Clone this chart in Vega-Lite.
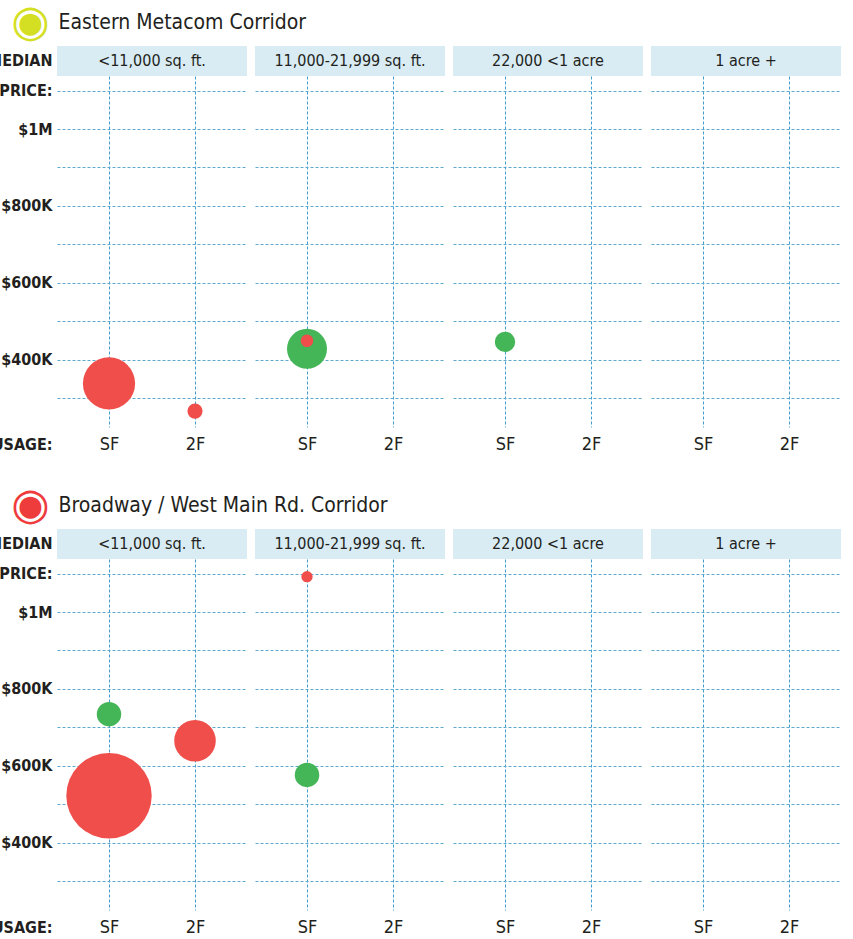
{
  "$schema": "https://vega.github.io/schema/vega-lite/v6.json",
  "background": "white",
  "padding": {"left": -13, "top": 0, "right": 0, "bottom": 0},
  "data": {"values": [
    {"section": "Eastern Metacom Corridor", "lot": "<11,000 sq. ft.", "kind": "header"},
    {"section": "Eastern Metacom Corridor", "lot": "11,000-21,999 sq. ft.", "kind": "header"},
    {"section": "Eastern Metacom Corridor", "lot": "22,000 <1 acre", "kind": "header"},
    {"section": "Eastern Metacom Corridor", "lot": "1 acre +", "kind": "header"},
    {"section": "Broadway / West Main Rd. Corridor", "lot": "<11,000 sq. ft.", "kind": "header"},
    {"section": "Broadway / West Main Rd. Corridor", "lot": "11,000-21,999 sq. ft.", "kind": "header"},
    {"section": "Broadway / West Main Rd. Corridor", "lot": "22,000 <1 acre", "kind": "header"},
    {"section": "Broadway / West Main Rd. Corridor", "lot": "1 acre +", "kind": "header"},
    {"section": "Eastern Metacom Corridor", "lot": "<11,000 sq. ft.", "kind": "bubble", "usage": "SF", "group": "B", "price": 338000, "n": 21.3},
    {"section": "Eastern Metacom Corridor", "lot": "<11,000 sq. ft.", "kind": "bubble", "usage": "2F", "group": "B", "price": 266000, "n": 1.8},
    {"section": "Eastern Metacom Corridor", "lot": "11,000-21,999 sq. ft.", "kind": "bubble", "usage": "SF", "group": "A", "price": 428000, "n": 12.5},
    {"section": "Eastern Metacom Corridor", "lot": "11,000-21,999 sq. ft.", "kind": "bubble", "usage": "SF", "group": "B", "price": 449000, "n": 1.25},
    {"section": "Eastern Metacom Corridor", "lot": "22,000 <1 acre", "kind": "bubble", "usage": "SF", "group": "A", "price": 446000, "n": 3.25},
    {"section": "Broadway / West Main Rd. Corridor", "lot": "<11,000 sq. ft.", "kind": "bubble", "usage": "SF", "group": "A", "price": 734000, "n": 4.65},
    {"section": "Broadway / West Main Rd. Corridor", "lot": "<11,000 sq. ft.", "kind": "bubble", "usage": "SF", "group": "B", "price": 522000, "n": 57},
    {"section": "Broadway / West Main Rd. Corridor", "lot": "<11,000 sq. ft.", "kind": "bubble", "usage": "2F", "group": "B", "price": 665000, "n": 13.5},
    {"section": "Broadway / West Main Rd. Corridor", "lot": "11,000-21,999 sq. ft.", "kind": "bubble", "usage": "SF", "group": "A", "price": 576000, "n": 4.7},
    {"section": "Broadway / West Main Rd. Corridor", "lot": "11,000-21,999 sq. ft.", "kind": "bubble", "usage": "SF", "group": "B", "price": 1092000, "n": 1.0}
  ]},
  "spacing": 30,
  "vconcat": [
    {
      "spacing": 8, "bounds": "flush",
      "hconcat": [
        {
          "width": 190, "height": 381,
          "transform": [{"filter": "datum.section === 'Eastern Metacom Corridor' && datum.lot === '<11,000 sq. ft.'"}],
          "resolve": {"scale": {"x": "independent"}, "axis": {"x": "independent"}},
          "layer": [
            {"transform": [{"filter": "datum.kind === 'header'"}], "mark": {"type": "rect", "color": "#d9ecf4"},
             "encoding": {
               "x": {"datum": 0, "type": "quantitative", "scale": {"domain": [0, 1]}, "axis": {"orient": "top", "labels": false, "grid": false, "title": "Eastern Metacom Corridor", "titleAngle": 0, "titleAlign": "left", "titleBaseline": "middle", "titleX": 1, "titleY": -24, "titleFontSize": 21, "titleFontWeight": "normal"}},
               "x2": {"datum": 1},
               "y": {"datum": 1216000, "type": "quantitative", "scale": {"domain": [224500, 1216000], "nice": false, "zero": false}, "axis": {"grid": true, "values": [300000, 400000, 500000, 600000, 700000, 800000, 900000, 1000000, 1100000, 1177000], "labelExpr": "datum.value == 1177000 ? 'MEDIAN' : datum.value == 1100000 ? 'PRICE:' : datum.value == 1000000 ? '$1M' : (datum.value == 800000 || datum.value == 600000 || datum.value == 400000) ? '$' + (datum.value / 1000) + 'K' : ''", "labelFontSize": 16, "labelFontWeight": "bold", "labelPadding": 5, "title": "◉", "titleFont": "DejaVu Sans", "titleFontSize": 44, "titleFontWeight": "bold", "titleColor": "#d4df24", "titleAngle": 0, "titleAlign": "center", "titleBaseline": "middle", "titleX": -27, "titleY": -24}},
               "y2": {"datum": 1138000}}},
            {"transform": [{"filter": "datum.kind === 'header'"}], "mark": {"type": "text", "fontSize": 16, "color": "#231f20"},
             "encoding": {
               "x": {"datum": 0.5, "type": "quantitative", "scale": {"domain": [0, 1]}, "axis": null},
               "y": {"datum": 1177000, "type": "quantitative"},
               "text": {"field": "lot"}}},
            {"transform": [{"filter": "datum.kind === 'bubble'"}], "mark": {"type": "circle", "opacity": 1},
             "encoding": {
               "x": {"field": "usage", "type": "nominal", "scale": {"type": "point", "domain": ["SF", "2F"], "padding": 0.60465}, "axis": {"orient": "bottom", "grid": true, "gridColor": "#3f9ccc", "labelAngle": 0, "labelFontSize": 18, "labelPadding": 8, "title": "USAGE:", "titleAngle": 0, "titleAlign": "right", "titleBaseline": "middle", "titleX": -5, "titleY": 17, "titleFontSize": 16, "titleFontWeight": "bold"}},
               "y": {"field": "price", "type": "quantitative", "scale": {"domain": [224500, 1216000], "nice": false, "zero": false}},
               "size": {"field": "n", "type": "quantitative", "scale": {"type": "linear", "zero": true, "domain": [0, 60], "range": [0, 7680]}, "legend": null},
               "color": {"field": "group", "type": "nominal", "scale": {"domain": ["A", "B"], "range": ["#44b658", "#f04e4b"]}, "legend": null},
               "order": {"field": "n", "type": "quantitative", "sort": "descending"}}}
          ]
        },
        {
          "width": 190, "height": 381,
          "transform": [{"filter": "datum.section === 'Eastern Metacom Corridor' && datum.lot === '11,000-21,999 sq. ft.'"}],
          "resolve": {"scale": {"x": "independent"}, "axis": {"x": "independent"}},
          "layer": [
            {"transform": [{"filter": "datum.kind === 'header'"}], "mark": {"type": "rect", "color": "#d9ecf4"},
             "encoding": {
               "x": {"datum": 0, "type": "quantitative", "scale": {"domain": [0, 1]}, "axis": null},
               "x2": {"datum": 1},
               "y": {"datum": 1216000, "type": "quantitative", "scale": {"domain": [224500, 1216000], "nice": false, "zero": false}, "axis": {"grid": true, "values": [300000, 400000, 500000, 600000, 700000, 800000, 900000, 1000000, 1100000, 1177000], "labels": false, "title": null}},
               "y2": {"datum": 1138000}}},
            {"transform": [{"filter": "datum.kind === 'header'"}], "mark": {"type": "text", "fontSize": 16, "color": "#231f20"},
             "encoding": {
               "x": {"datum": 0.5, "type": "quantitative", "scale": {"domain": [0, 1]}, "axis": null},
               "y": {"datum": 1177000, "type": "quantitative"},
               "text": {"field": "lot"}}},
            {"transform": [{"filter": "datum.kind === 'bubble'"}], "mark": {"type": "circle", "opacity": 1},
             "encoding": {
               "x": {"field": "usage", "type": "nominal", "scale": {"type": "point", "domain": ["SF", "2F"], "padding": 0.60465}, "axis": {"orient": "bottom", "grid": true, "gridColor": "#3f9ccc", "labelAngle": 0, "labelFontSize": 18, "labelPadding": 8, "title": null}},
               "y": {"field": "price", "type": "quantitative", "scale": {"domain": [224500, 1216000], "nice": false, "zero": false}},
               "size": {"field": "n", "type": "quantitative", "scale": {"type": "linear", "zero": true, "domain": [0, 60], "range": [0, 7680]}, "legend": null},
               "color": {"field": "group", "type": "nominal", "scale": {"domain": ["A", "B"], "range": ["#44b658", "#f04e4b"]}, "legend": null},
               "order": {"field": "n", "type": "quantitative", "sort": "descending"}}}
          ]
        },
        {
          "width": 190, "height": 381,
          "transform": [{"filter": "datum.section === 'Eastern Metacom Corridor' && datum.lot === '22,000 <1 acre'"}],
          "resolve": {"scale": {"x": "independent"}, "axis": {"x": "independent"}},
          "layer": [
            {"transform": [{"filter": "datum.kind === 'header'"}], "mark": {"type": "rect", "color": "#d9ecf4"},
             "encoding": {
               "x": {"datum": 0, "type": "quantitative", "scale": {"domain": [0, 1]}, "axis": null},
               "x2": {"datum": 1},
               "y": {"datum": 1216000, "type": "quantitative", "scale": {"domain": [224500, 1216000], "nice": false, "zero": false}, "axis": {"grid": true, "values": [300000, 400000, 500000, 600000, 700000, 800000, 900000, 1000000, 1100000, 1177000], "labels": false, "title": null}},
               "y2": {"datum": 1138000}}},
            {"transform": [{"filter": "datum.kind === 'header'"}], "mark": {"type": "text", "fontSize": 16, "color": "#231f20"},
             "encoding": {
               "x": {"datum": 0.5, "type": "quantitative", "scale": {"domain": [0, 1]}, "axis": null},
               "y": {"datum": 1177000, "type": "quantitative"},
               "text": {"field": "lot"}}},
            {"transform": [{"filter": "datum.kind === 'bubble'"}], "mark": {"type": "circle", "opacity": 1},
             "encoding": {
               "x": {"field": "usage", "type": "nominal", "scale": {"type": "point", "domain": ["SF", "2F"], "padding": 0.60465}, "axis": {"orient": "bottom", "grid": true, "gridColor": "#3f9ccc", "labelAngle": 0, "labelFontSize": 18, "labelPadding": 8, "title": null}},
               "y": {"field": "price", "type": "quantitative", "scale": {"domain": [224500, 1216000], "nice": false, "zero": false}},
               "size": {"field": "n", "type": "quantitative", "scale": {"type": "linear", "zero": true, "domain": [0, 60], "range": [0, 7680]}, "legend": null},
               "color": {"field": "group", "type": "nominal", "scale": {"domain": ["A", "B"], "range": ["#44b658", "#f04e4b"]}, "legend": null},
               "order": {"field": "n", "type": "quantitative", "sort": "descending"}}}
          ]
        },
        {
          "width": 190, "height": 381,
          "transform": [{"filter": "datum.section === 'Eastern Metacom Corridor' && datum.lot === '1 acre +'"}],
          "resolve": {"scale": {"x": "independent"}, "axis": {"x": "independent"}},
          "layer": [
            {"transform": [{"filter": "datum.kind === 'header'"}], "mark": {"type": "rect", "color": "#d9ecf4"},
             "encoding": {
               "x": {"datum": 0, "type": "quantitative", "scale": {"domain": [0, 1]}, "axis": null},
               "x2": {"datum": 1},
               "y": {"datum": 1216000, "type": "quantitative", "scale": {"domain": [224500, 1216000], "nice": false, "zero": false}, "axis": {"grid": true, "values": [300000, 400000, 500000, 600000, 700000, 800000, 900000, 1000000, 1100000, 1177000], "labels": false, "title": null}},
               "y2": {"datum": 1138000}}},
            {"transform": [{"filter": "datum.kind === 'header'"}], "mark": {"type": "text", "fontSize": 16, "color": "#231f20"},
             "encoding": {
               "x": {"datum": 0.5, "type": "quantitative", "scale": {"domain": [0, 1]}, "axis": null},
               "y": {"datum": 1177000, "type": "quantitative"},
               "text": {"field": "lot"}}},
            {"transform": [{"filter": "datum.kind === 'bubble'"}], "mark": {"type": "circle", "opacity": 1},
             "encoding": {
               "x": {"field": "usage", "type": "nominal", "scale": {"type": "point", "domain": ["SF", "2F"], "padding": 0.60465}, "axis": {"orient": "bottom", "grid": true, "gridColor": "#3f9ccc", "labelAngle": 0, "labelFontSize": 18, "labelPadding": 8, "title": null}},
               "y": {"field": "price", "type": "quantitative", "scale": {"domain": [224500, 1216000], "nice": false, "zero": false}},
               "size": {"field": "n", "type": "quantitative", "scale": {"type": "linear", "zero": true, "domain": [0, 60], "range": [0, 7680]}, "legend": null},
               "color": {"field": "group", "type": "nominal", "scale": {"domain": ["A", "B"], "range": ["#44b658", "#f04e4b"]}, "legend": null},
               "order": {"field": "n", "type": "quantitative", "sort": "descending"}}}
          ]
        }
      ]
    },
    {
      "spacing": 8, "bounds": "flush",
      "hconcat": [
        {
          "width": 190, "height": 381,
          "transform": [{"filter": "datum.section === 'Broadway / West Main Rd. Corridor' && datum.lot === '<11,000 sq. ft.'"}],
          "resolve": {"scale": {"x": "independent"}, "axis": {"x": "independent"}},
          "layer": [
            {"transform": [{"filter": "datum.kind === 'header'"}], "mark": {"type": "rect", "color": "#d9ecf4"},
             "encoding": {
               "x": {"datum": 0, "type": "quantitative", "scale": {"domain": [0, 1]}, "axis": {"orient": "top", "labels": false, "grid": false, "title": "Broadway / West Main Rd. Corridor", "titleAngle": 0, "titleAlign": "left", "titleBaseline": "middle", "titleX": 1, "titleY": -24, "titleFontSize": 21, "titleFontWeight": "normal"}},
               "x2": {"datum": 1},
               "y": {"datum": 1216000, "type": "quantitative", "scale": {"domain": [224500, 1216000], "nice": false, "zero": false}, "axis": {"grid": true, "values": [300000, 400000, 500000, 600000, 700000, 800000, 900000, 1000000, 1100000, 1177000], "labelExpr": "datum.value == 1177000 ? 'MEDIAN' : datum.value == 1100000 ? 'PRICE:' : datum.value == 1000000 ? '$1M' : (datum.value == 800000 || datum.value == 600000 || datum.value == 400000) ? '$' + (datum.value / 1000) + 'K' : ''", "labelFontSize": 16, "labelFontWeight": "bold", "labelPadding": 5, "title": "◉", "titleFont": "DejaVu Sans", "titleFontSize": 44, "titleFontWeight": "bold", "titleColor": "#ee3b3b", "titleAngle": 0, "titleAlign": "center", "titleBaseline": "middle", "titleX": -27, "titleY": -24}},
               "y2": {"datum": 1138000}}},
            {"transform": [{"filter": "datum.kind === 'header'"}], "mark": {"type": "text", "fontSize": 16, "color": "#231f20"},
             "encoding": {
               "x": {"datum": 0.5, "type": "quantitative", "scale": {"domain": [0, 1]}, "axis": null},
               "y": {"datum": 1177000, "type": "quantitative"},
               "text": {"field": "lot"}}},
            {"transform": [{"filter": "datum.kind === 'bubble'"}], "mark": {"type": "circle", "opacity": 1},
             "encoding": {
               "x": {"field": "usage", "type": "nominal", "scale": {"type": "point", "domain": ["SF", "2F"], "padding": 0.60465}, "axis": {"orient": "bottom", "grid": true, "gridColor": "#3f9ccc", "labelAngle": 0, "labelFontSize": 18, "labelPadding": 8, "title": "USAGE:", "titleAngle": 0, "titleAlign": "right", "titleBaseline": "middle", "titleX": -5, "titleY": 17, "titleFontSize": 16, "titleFontWeight": "bold"}},
               "y": {"field": "price", "type": "quantitative", "scale": {"domain": [224500, 1216000], "nice": false, "zero": false}},
               "size": {"field": "n", "type": "quantitative", "scale": {"type": "linear", "zero": true, "domain": [0, 60], "range": [0, 7680]}, "legend": null},
               "color": {"field": "group", "type": "nominal", "scale": {"domain": ["A", "B"], "range": ["#44b658", "#f04e4b"]}, "legend": null},
               "order": {"field": "n", "type": "quantitative", "sort": "descending"}}}
          ]
        },
        {
          "width": 190, "height": 381,
          "transform": [{"filter": "datum.section === 'Broadway / West Main Rd. Corridor' && datum.lot === '11,000-21,999 sq. ft.'"}],
          "resolve": {"scale": {"x": "independent"}, "axis": {"x": "independent"}},
          "layer": [
            {"transform": [{"filter": "datum.kind === 'header'"}], "mark": {"type": "rect", "color": "#d9ecf4"},
             "encoding": {
               "x": {"datum": 0, "type": "quantitative", "scale": {"domain": [0, 1]}, "axis": null},
               "x2": {"datum": 1},
               "y": {"datum": 1216000, "type": "quantitative", "scale": {"domain": [224500, 1216000], "nice": false, "zero": false}, "axis": {"grid": true, "values": [300000, 400000, 500000, 600000, 700000, 800000, 900000, 1000000, 1100000, 1177000], "labels": false, "title": null}},
               "y2": {"datum": 1138000}}},
            {"transform": [{"filter": "datum.kind === 'header'"}], "mark": {"type": "text", "fontSize": 16, "color": "#231f20"},
             "encoding": {
               "x": {"datum": 0.5, "type": "quantitative", "scale": {"domain": [0, 1]}, "axis": null},
               "y": {"datum": 1177000, "type": "quantitative"},
               "text": {"field": "lot"}}},
            {"transform": [{"filter": "datum.kind === 'bubble'"}], "mark": {"type": "circle", "opacity": 1},
             "encoding": {
               "x": {"field": "usage", "type": "nominal", "scale": {"type": "point", "domain": ["SF", "2F"], "padding": 0.60465}, "axis": {"orient": "bottom", "grid": true, "gridColor": "#3f9ccc", "labelAngle": 0, "labelFontSize": 18, "labelPadding": 8, "title": null}},
               "y": {"field": "price", "type": "quantitative", "scale": {"domain": [224500, 1216000], "nice": false, "zero": false}},
               "size": {"field": "n", "type": "quantitative", "scale": {"type": "linear", "zero": true, "domain": [0, 60], "range": [0, 7680]}, "legend": null},
               "color": {"field": "group", "type": "nominal", "scale": {"domain": ["A", "B"], "range": ["#44b658", "#f04e4b"]}, "legend": null},
               "order": {"field": "n", "type": "quantitative", "sort": "descending"}}}
          ]
        },
        {
          "width": 190, "height": 381,
          "transform": [{"filter": "datum.section === 'Broadway / West Main Rd. Corridor' && datum.lot === '22,000 <1 acre'"}],
          "resolve": {"scale": {"x": "independent"}, "axis": {"x": "independent"}},
          "layer": [
            {"transform": [{"filter": "datum.kind === 'header'"}], "mark": {"type": "rect", "color": "#d9ecf4"},
             "encoding": {
               "x": {"datum": 0, "type": "quantitative", "scale": {"domain": [0, 1]}, "axis": null},
               "x2": {"datum": 1},
               "y": {"datum": 1216000, "type": "quantitative", "scale": {"domain": [224500, 1216000], "nice": false, "zero": false}, "axis": {"grid": true, "values": [300000, 400000, 500000, 600000, 700000, 800000, 900000, 1000000, 1100000, 1177000], "labels": false, "title": null}},
               "y2": {"datum": 1138000}}},
            {"transform": [{"filter": "datum.kind === 'header'"}], "mark": {"type": "text", "fontSize": 16, "color": "#231f20"},
             "encoding": {
               "x": {"datum": 0.5, "type": "quantitative", "scale": {"domain": [0, 1]}, "axis": null},
               "y": {"datum": 1177000, "type": "quantitative"},
               "text": {"field": "lot"}}},
            {"transform": [{"filter": "datum.kind === 'bubble'"}], "mark": {"type": "circle", "opacity": 1},
             "encoding": {
               "x": {"field": "usage", "type": "nominal", "scale": {"type": "point", "domain": ["SF", "2F"], "padding": 0.60465}, "axis": {"orient": "bottom", "grid": true, "gridColor": "#3f9ccc", "labelAngle": 0, "labelFontSize": 18, "labelPadding": 8, "title": null}},
               "y": {"field": "price", "type": "quantitative", "scale": {"domain": [224500, 1216000], "nice": false, "zero": false}},
               "size": {"field": "n", "type": "quantitative", "scale": {"type": "linear", "zero": true, "domain": [0, 60], "range": [0, 7680]}, "legend": null},
               "color": {"field": "group", "type": "nominal", "scale": {"domain": ["A", "B"], "range": ["#44b658", "#f04e4b"]}, "legend": null},
               "order": {"field": "n", "type": "quantitative", "sort": "descending"}}}
          ]
        },
        {
          "width": 190, "height": 381,
          "transform": [{"filter": "datum.section === 'Broadway / West Main Rd. Corridor' && datum.lot === '1 acre +'"}],
          "resolve": {"scale": {"x": "independent"}, "axis": {"x": "independent"}},
          "layer": [
            {"transform": [{"filter": "datum.kind === 'header'"}], "mark": {"type": "rect", "color": "#d9ecf4"},
             "encoding": {
               "x": {"datum": 0, "type": "quantitative", "scale": {"domain": [0, 1]}, "axis": null},
               "x2": {"datum": 1},
               "y": {"datum": 1216000, "type": "quantitative", "scale": {"domain": [224500, 1216000], "nice": false, "zero": false}, "axis": {"grid": true, "values": [300000, 400000, 500000, 600000, 700000, 800000, 900000, 1000000, 1100000, 1177000], "labels": false, "title": null}},
               "y2": {"datum": 1138000}}},
            {"transform": [{"filter": "datum.kind === 'header'"}], "mark": {"type": "text", "fontSize": 16, "color": "#231f20"},
             "encoding": {
               "x": {"datum": 0.5, "type": "quantitative", "scale": {"domain": [0, 1]}, "axis": null},
               "y": {"datum": 1177000, "type": "quantitative"},
               "text": {"field": "lot"}}},
            {"transform": [{"filter": "datum.kind === 'bubble'"}], "mark": {"type": "circle", "opacity": 1},
             "encoding": {
               "x": {"field": "usage", "type": "nominal", "scale": {"type": "point", "domain": ["SF", "2F"], "padding": 0.60465}, "axis": {"orient": "bottom", "grid": true, "gridColor": "#3f9ccc", "labelAngle": 0, "labelFontSize": 18, "labelPadding": 8, "title": null}},
               "y": {"field": "price", "type": "quantitative", "scale": {"domain": [224500, 1216000], "nice": false, "zero": false}},
               "size": {"field": "n", "type": "quantitative", "scale": {"type": "linear", "zero": true, "domain": [0, 60], "range": [0, 7680]}, "legend": null},
               "color": {"field": "group", "type": "nominal", "scale": {"domain": ["A", "B"], "range": ["#44b658", "#f04e4b"]}, "legend": null},
               "order": {"field": "n", "type": "quantitative", "sort": "descending"}}}
          ]
        }
      ]
    }
  ],
  "config": {
    "font": "Liberation Sans Narrow, DejaVu Sans Condensed, sans-serif",
    "view": {"stroke": null},
    "axis": {
      "domain": false, "ticks": false,
      "gridColor": "#5ea8cd", "gridDash": [3, 2], "gridWidth": 1, "gridOpacity": 1,
      "labelFont": "Liberation Sans Narrow, DejaVu Sans Condensed, sans-serif",
      "titleFont": "Liberation Sans Narrow, DejaVu Sans Condensed, sans-serif",
      "labelColor": "#231f20", "titleColor": "#231f20"
    },
    "text": {"font": "Liberation Sans Narrow, DejaVu Sans Condensed, sans-serif"}
  }
}
